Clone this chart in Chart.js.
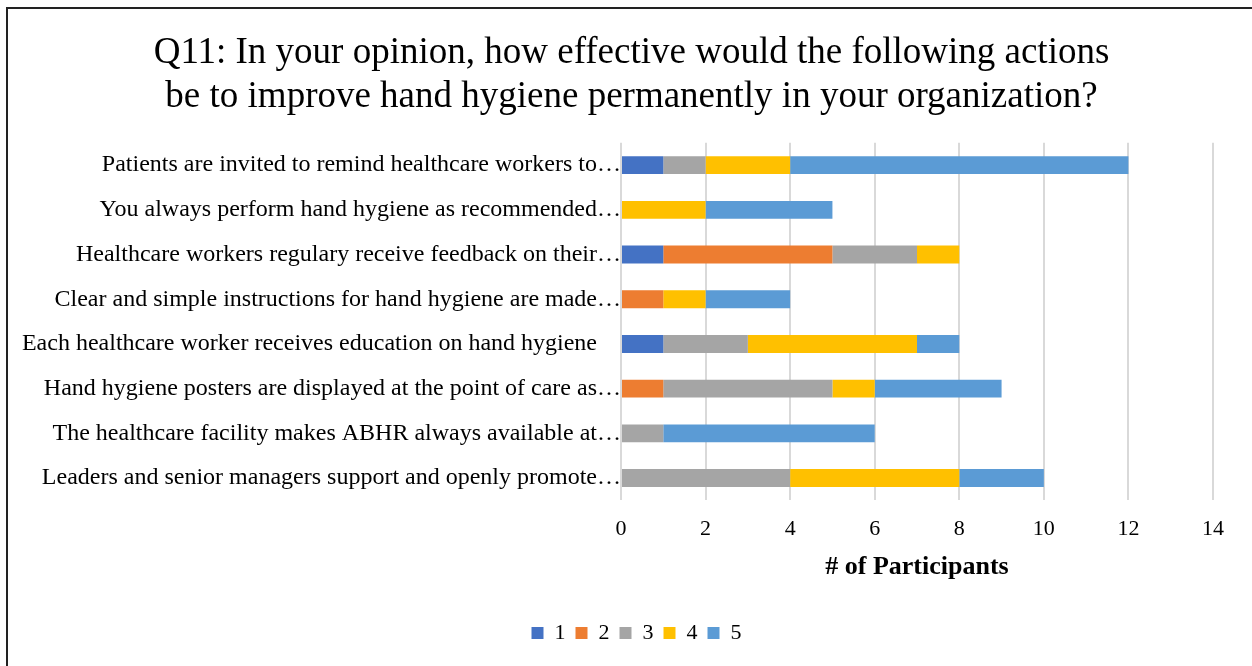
<!DOCTYPE html>
<html>
<head>
<meta charset="utf-8">
<script src="https://cdn.jsdelivr.net/npm/chart.js@4/dist/chart.umd.min.js"></script>
<style>
  html, body { margin: 0; padding: 0; background: #fff; overflow: hidden; }
  #frame {
    position: absolute; left: 6px; top: 7px;
    width: 1400px; height: 800px;
    border: 2px solid #222;
  }
  #wrap { position: absolute; left: 0; top: 0; width: 1252px; height: 666px; }
</style>
</head>
<body>
<div id="frame"></div>
<div id="wrap"><canvas id="q11" width="1252" height="666"></canvas></div>
<script>
// Survey answers for Q11, rating 1..5, participants per action
const actions = [
    'Patients are invited to remind healthcare workers to\u2026',
    'You always perform hand hygiene as recommended\u2026',
    'Healthcare workers regulary receive feedback on their\u2026',
    'Clear and simple instructions for hand hygiene are made\u2026',
    'Each healthcare worker receives education on hand hygiene    ',
    'Hand hygiene posters are displayed at the point of care as\u2026',
    'The healthcare facility makes ABHR always available at\u2026',
    'Leaders and senior managers support and openly promote\u2026'
];

const rating1 = [1, 0, 1, 0, 1, 0, 0, 0];
const rating2 = [0, 0, 4, 1, 0, 1, 0, 0];
const rating3 = [1, 0, 2, 0, 2, 4, 1, 4];
const rating4 = [2, 2, 1, 1, 4, 1, 0, 4];
const rating5 = [8, 3, 0, 2, 1, 3, 5, 2];

const xTicks = [0, 2, 4, 6, 8, 10, 12, 14];

const colors = {
    r1: '#4472C4',
    r2: '#ED7D31',
    r3: '#A5A5A5',
    r4: '#FFC000',
    r5: '#5B9BD5'
};

const serif = "'Liberation Serif', 'Times New Roman', serif";

function series(label, data, color) {
    return {
        label: label,
        data: data,
        backgroundColor: color,
        borderWidth: 0,
        barPercentage: 0.4,
        categoryPercentage: 1.0
    };
}

// nudge title and legend to the right so they sit over the plot, not the whole canvas
const shiftBoxes = {
    id: 'shiftBoxes',
    afterLayout(chart) {
        const moves = [[chart.titleBlock, 50], [chart.legend, 60]];
        moves.forEach(([box, dx]) => {
            if (!box) return;
            box.left += dx;
            box.width = box.right - box.left;
        });
    }
};

new Chart(document.getElementById('q11'), {
    type: 'bar',
    data: {
        labels: actions,
        datasets: [
            series('1', rating1, colors.r1),
            series('2', rating2, colors.r2),
            series('3', rating3, colors.r3),
            series('4', rating4, colors.r4),
            series('5', rating5, colors.r5)
        ]
    },
    plugins: [shiftBoxes],
    options: {
        indexAxis: 'y',
        responsive: false,
        animation: false,
        layout: { padding: { left: 0, right: 39, top: 0, bottom: 12 } },
        plugins: {
            title: {
                display: true,
                text: [
                    'Q11: In your opinion, how effective would the following actions',
                    'be to improve hand hygiene permanently in your organization?'
                ],
                color: '#000',
                font: { family: serif, size: 37, weight: 'normal', lineHeight: 1.2 },
                padding: { top: 31, bottom: 23 }
            },
            legend: {
                position: 'bottom',
                labels: {
                    color: '#000',
                    font: { family: serif, size: 22 },
                    boxWidth: 12,
                    boxHeight: 12,
                    padding: 10
                }
            },
            tooltip: { enabled: false }
        },
        scales: {
            x: {
                stacked: true,
                min: 0,
                max: 14,
                afterBuildTicks: (scale) => {
                    scale.ticks = xTicks.map(v => ({ value: v }));
                },
                grid: { color: '#d9d9d9', lineWidth: 2, drawTicks: false },
                border: { display: false },
                ticks: {
                    color: '#000',
                    font: { family: serif, size: 22 },
                    padding: 16
                },
                title: {
                    display: true,
                    text: '# of Participants',
                    color: '#000',
                    font: { family: serif, size: 26, weight: 'bold' },
                    padding: { top: -7, bottom: 29 }
                }
            },
            y: {
                stacked: true,
                afterFit: (scale) => { scale.width = 621; },
                grid: { display: false, drawTicks: false },
                border: { display: false },
                ticks: {
                    color: '#000',
                    font: { family: serif, size: 24 },
                    padding: 0,
                    autoSkip: false
                }
            }
        }
    }
});
</script>
</body>
</html>
